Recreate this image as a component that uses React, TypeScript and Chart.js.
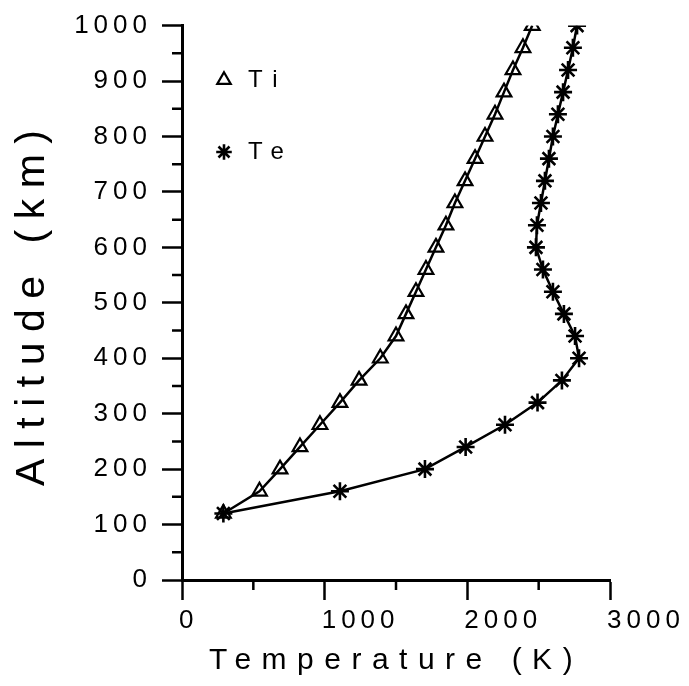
import React, { useEffect, useRef } from 'react';
import { Chart, registerables } from 'chart.js';

Chart.register(...registerables);

const altitudes = [120, 160, 200, 240, 280, 320, 360, 400, 440, 480, 520, 560, 600, 640, 680, 720, 760, 800, 840, 880, 920, 960, 1000];
const tiValues = [290, 543, 687, 827, 967, 1107, 1241, 1390, 1500, 1570, 1640, 1710, 1780, 1850, 1913, 1984, 2054, 2124, 2194, 2257, 2320, 2390, 2455];
const teValues = [290, 1107, 1703, 1988, 2264, 2492, 2663, 2783, 2755, 2677, 2600, 2530, 2481, 2488, 2516, 2544, 2572, 2600, 2635, 2671, 2706, 2740, 2769];
const seriesNames = ['Ti', 'Te'];
const xMinorTicks = [500, 1500, 2500];
const yMinorTicks = [50, 150, 250, 350, 450, 550, 650, 750, 850, 950];
const xTitle = 'Temperature (K)';
const yTitle = 'Altitude (km)';

const FONT = "'Liberation Sans', Arial, sans-serif";

const spacingPlugin = {
  id: 'spacingAndMinor',
  beforeLayout(chart: any) {
    chart.ctx.letterSpacing = '0px';
  },
  afterLayout(chart: any) {
    const lg = chart.legend;
    if (lg) {
      lg.left = 164;
      lg.top = 20;
    }
  },
  beforeDraw(chart: any) {
    chart.ctx.letterSpacing = '10.5px';
  },
  afterDatasetsDraw(chart: any) {
    chart.ctx.letterSpacing = '5px';
  },
  afterDraw(chart: any) {
    const ctx = chart.ctx;
    const xs = chart.scales.x;
    const ys = chart.scales.y;
    ctx.save();
    ctx.strokeStyle = '#000';
    ctx.lineWidth = 2.5;
    ctx.beginPath();
    for (const v of xMinorTicks) {
      const px = xs.getPixelForValue(v);
      ctx.moveTo(px, xs.top);
      ctx.lineTo(px, xs.top + 10);
    }
    for (const v of yMinorTicks) {
      const py = ys.getPixelForValue(v);
      ctx.moveTo(ys.right, py);
      ctx.lineTo(ys.right - 10, py);
    }
    ctx.stroke();
    ctx.restore();
    ctx.letterSpacing = '0px';
  },
};

export default function App() {
  const canvasRef = useRef<HTMLCanvasElement | null>(null);

  useEffect(() => {
    const canvas = canvasRef.current;
    if (!canvas) return;
    const chart = new Chart(canvas, {
      type: 'scatter',
      data: {
        datasets: [
          {
            label: seriesNames[0],
            data: altitudes.map((a, i) => ({ x: tiValues[i], y: a })),
            showLine: true,
            borderColor: '#000',
            backgroundColor: 'rgba(0,0,0,0)',
            borderWidth: 2.5,
            pointStyle: 'triangle',
            pointRadius: 8.5,
            pointBorderWidth: 2.2,
            pointBorderColor: '#000',
            pointBackgroundColor: 'rgba(0,0,0,0)',
          },
          {
            label: seriesNames[1],
            data: altitudes.map((a, i) => ({ x: teValues[i], y: a })),
            showLine: true,
            borderColor: '#000',
            backgroundColor: 'rgba(0,0,0,0)',
            borderWidth: 2.5,
            pointStyle: 'star',
            pointRadius: 9,
            pointBorderWidth: 2.6,
            pointBorderColor: '#000',
            pointBackgroundColor: 'rgba(0,0,0,0)',
          },
        ],
      },
      options: {
        responsive: false,
        devicePixelRatio: 1,
        animation: false,
        layout: { padding: { left: 0, top: 22, right: 79, bottom: 0 } },
        plugins: {
          tooltip: { enabled: false },
          legend: {
            position: 'chartArea',
            align: 'start',
            labels: {
              usePointStyle: true,
              color: '#000',
              font: { size: 24, family: FONT },
              padding: 48,
              boxWidth: 24,
              boxHeight: 11,
            },
          },
        },
        scales: {
          x: {
            type: 'linear',
            position: 'bottom',
            min: 0,
            max: 3000,
            afterFit: (s: any) => {
              s.height = 106;
            },
            ticks: {
              stepSize: 1000,
              align: 'start',
              labelOffset: -3,
              padding: 5,
              color: '#000',
              font: { size: 26, family: FONT },
              maxRotation: 0,
              autoSkip: false,
              z: 1,
              callback: (v: any) => String(v),
            },
            grid: {
              drawOnChartArea: false,
              drawTicks: true,
              tickLength: 20,
              tickWidth: 2.5,
              tickColor: '#000',
              color: '#000',
            },
            border: { display: true, color: '#000', width: 3 },
            title: {
              display: true,
              text: xTitle,
              color: '#000',
              font: { size: 30, family: FONT },
              padding: { top: 0, bottom: 7 },
            },
          },
          y: {
            type: 'linear',
            position: 'left',
            min: 0,
            max: 1000,
            afterFit: (s: any) => {
              s.width = 182;
            },
            ticks: {
              stepSize: 100,
              padding: 10,
              color: '#000',
              font: { size: 26, family: FONT },
              autoSkip: false,
              z: 1,
              callback: (v: any) => String(v),
            },
            grid: {
              drawOnChartArea: false,
              drawTicks: true,
              tickLength: 20,
              tickWidth: 2.5,
              tickColor: '#000',
              color: '#000',
            },
            border: { display: true, color: '#000', width: 3 },
            title: {
              display: true,
              text: yTitle,
              color: '#000',
              font: { size: 41, family: FONT },
              padding: { top: 8, bottom: 0 },
            },
          },
        },
      },
      plugins: [spacingPlugin],
    } as any);
    return () => chart.destroy();
  }, []);

  return (
    <div style={{ position: 'absolute', left: 0, top: 0, width: 689, height: 686, background: '#fff' }}>
      <canvas ref={canvasRef} width={689} height={686} style={{ display: 'block', width: 689, height: 686 }} />
    </div>
  );
}
